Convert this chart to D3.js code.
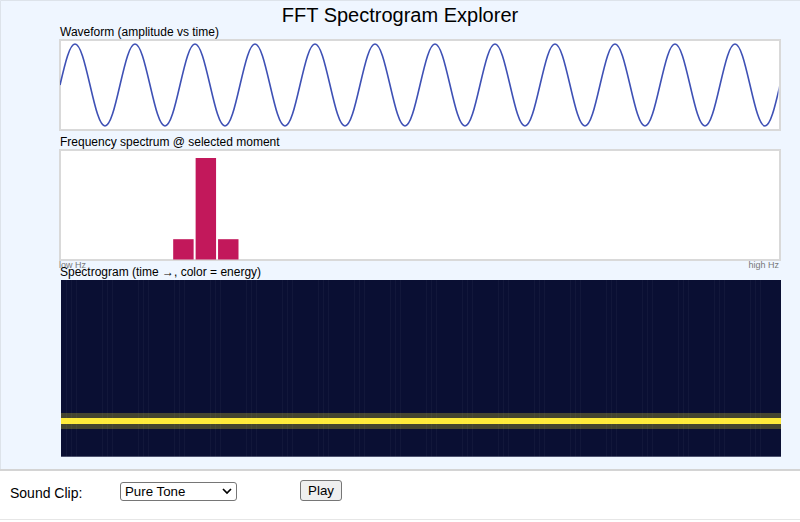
<!DOCTYPE html>
<html>
<head>
<meta charset="utf-8">
<title>FFT Spectrogram Explorer</title>
<script src="https://cdn.jsdelivr.net/npm/d3@7"></script>
<style>
  html, body { margin: 0; padding: 0; width: 800px; height: 522px; overflow: hidden; background: #fff; }
  body { font-family: "Liberation Sans", Arial, sans-serif; position: relative; }
  svg { position: absolute; left: 0; top: 0; }
  #clipSelect {
    position: absolute; left: 120px; top: 482px; width: 117px; height: 19px;
    box-sizing: border-box; margin: 0; padding: 0 0 0 4px;
    font: 13.3px "Liberation Sans", Arial, sans-serif; color: #000;
    border: 1px solid #767676; border-radius: 3px; background: #fff;
    appearance: none; -webkit-appearance: none;
    background-image: url("data:image/svg+xml,%3Csvg xmlns='http://www.w3.org/2000/svg' width='10' height='7'%3E%3Cpath d='M1 1l4 4 4-4' fill='none' stroke='%23000' stroke-width='1.7'/%3E%3C/svg%3E");
    background-repeat: no-repeat; background-position: right 4px center;
  }
  #playBtn {
    position: absolute; left: 300px; top: 480px; width: 42px; height: 21px;
    box-sizing: border-box; margin: 0; padding: 0;
    font: 13.3px "Liberation Sans", Arial, sans-serif; color: #000;
    border: 1px solid #767676; border-radius: 3px; background: #efefef;
  }
</style>
</head>
<body>
<svg id="chart" width="800" height="522"></svg>
<select id="clipSelect"><option>Pure Tone</option><option>Chirp</option><option>Noise</option></select>
<button id="playBtn">Play</button>
<script>
// amplitude, 8 samples per cycle
var waveAmp = [
  0, .71, 1, .71, 0, -.71, -1, -.71,
  0, .71, 1, .71, 0, -.71, -1, -.71,
  0, .71, 1, .71, 0, -.71, -1, -.71,
  0, .71, 1, .71, 0, -.71, -1, -.71,
  0, .71, 1, .71, 0, -.71, -1, -.71,
  0, .71, 1, .71, 0, -.71, -1, -.71,
  0, .71, 1, .71, 0, -.71, -1, -.71,
  0, .71, 1, .71, 0, -.71, -1, -.71,
  0, .71, 1, .71, 0, -.71, -1, -.71,
  0, .71, 1, .71, 0, -.71, -1, -.71,
  0, .71, 1, .71, 0, -.71, -1, -.71,
  0, .71, 1, .71, 0, -.71, -1, -.71,
  0
];

// energy per frequency bin at the selected moment (low Hz first)
var spectrumBins = [
  0, 0, 0, 0, 0, .2, 1, .2,
  0, 0, 0, 0, 0, 0, 0, 0,
  0, 0, 0, 0, 0, 0, 0, 0,
  0, 0, 0, 0, 0, 0, 0, 0
];

// pure tone, so every spectrogram frame has the same bins
var frameCount = 140;
// the faint vertical seams come in threes, every 7 frames
var seamPhases = [1, 2, 3];

var svg = d3.select("#chart");

// page background and footer
svg.append("rect").attr("width", 800).attr("height", 522).attr("fill", "#fff");
svg.append("rect").attr("width", 800).attr("height", 470).attr("fill", "#eff6ff");
svg.append("path").attr("d", "M0.5 470V0.5H800").attr("fill", "none").attr("stroke", "#dde3ea");
svg.append("line").attr("x1", 0).attr("x2", 800).attr("y1", 470).attr("y2", 470).attr("stroke", "#d4d4d4").attr("stroke-width", 2);
svg.append("line").attr("x1", 0).attr("x2", 800).attr("y1", 519.5).attr("y2", 519.5).attr("stroke", "#e6e6e6");

svg.append("text").text("FFT Spectrogram Explorer")
  .attr("x", 400).attr("y", 22).attr("text-anchor", "middle")
  .attr("font-size", 20).attr("fill", "#000");

function label(txt, x, y) {
  return svg.append("text").text(txt).attr("x", x).attr("y", y)
    .attr("font-size", 12).attr("fill", "#000");
}

function box(y, h) {
  svg.append("rect").attr("x", 60).attr("y", y).attr("width", 720).attr("height", h)
    .attr("fill", "#fff").attr("stroke", "#d9d9d9").attr("stroke-width", 2);
}

// waveform
label("Waveform (amplitude vs time)", 60, 36);
box(40, 90);

var waveX = d3.scaleLinear().domain([0, waveAmp.length - 1]).range([60, 780]);
var waveY = d3.scaleLinear().domain([-1, 1]).range([126, 44]);

svg.append("clipPath").attr("id", "waveClip").append("rect")
  .attr("x", 60).attr("y", 40).attr("width", 718.5).attr("height", 90);

svg.append("path").datum(waveAmp)
  .attr("clip-path", "url(#waveClip)")
  .attr("fill", "none").attr("stroke", "#3f51b5").attr("stroke-width", 1.6)
  .attr("d", d3.line().x((d, i) => waveX(i)).y(d => waveY(d)).curve(d3.curveNatural));

// frequency spectrum
label("Frequency spectrum @ selected moment", 60, 146);
box(150, 110);

var specX = d3.scaleBand().domain(d3.range(spectrumBins.length)).range([61, 779]);
var specY = d3.scaleLinear().domain([0, 1]).range([259.5, 158]);

svg.selectAll(".bin").data(spectrumBins).enter().append("rect")
  .attr("class", "bin")
  .attr("x", (d, i) => specX(i))
  .attr("y", d => specY(d))
  .attr("width", specX.bandwidth() - 2)
  .attr("height", d => specY(0) - specY(d))
  .attr("fill", "#c2185b");

svg.append("text").text("low Hz").attr("x", 59).attr("y", 268)
  .attr("font-size", 9).attr("fill", "#777");
svg.append("text").text("high Hz").attr("x", 779).attr("y", 268).attr("text-anchor", "end")
  .attr("font-size", 9).attr("fill", "#777");

// spectrogram
var gramX = d3.scaleBand().domain(d3.range(frameCount)).range([61, 781]);
var gramY = d3.scaleBand().domain(d3.range(spectrumBins.length)).range([456.7, 280]);
var gramColor = d3.scaleLinear().domain([0, .2, 1]).range(["#0a0f33", "#45452f", "#ffeb3b"]);

var frames = svg.selectAll(".frame").data(d3.range(frameCount)).enter().append("g")
  .attr("class", "frame");

// snap cells to whole pixels so neighbours do not leave antialiased gaps
function colEdge(t) { return Math.round(gramX(0) + t * gramX.step()); }
function rowTop(b) { return Math.round(gramY(b)); }
function rowBottom(b) { return b == 0 ? 456.7 : rowTop(b - 1); }

frames.selectAll("rect").data(t => spectrumBins.map((v, b) => ({ t: t, b: b, v: v }))).enter().append("rect")
  .attr("x", d => colEdge(d.t))
  .attr("y", d => rowTop(d.b))
  .attr("width", d => colEdge(d.t + 1) - colEdge(d.t))
  .attr("height", d => rowBottom(d.b) - rowTop(d.b))
  .attr("fill", d => gramColor(d.v));

svg.selectAll(".seam").data(d3.range(frameCount).filter(t => seamPhases.includes(t % 7))).enter().append("rect")
  .attr("class", "seam")
  .attr("x", t => colEdge(t))
  .attr("y", 280)
  .attr("width", 1)
  .attr("height", 176.7)
  .attr("fill", "#fff")
  .attr("opacity", 0.035);

label("Spectrogram (time \u2192, color = energy)", 60, 276);

// footer
label("Sound Clip:", 10, 498).attr("font-size", 14);
</script>
</body>
</html>
